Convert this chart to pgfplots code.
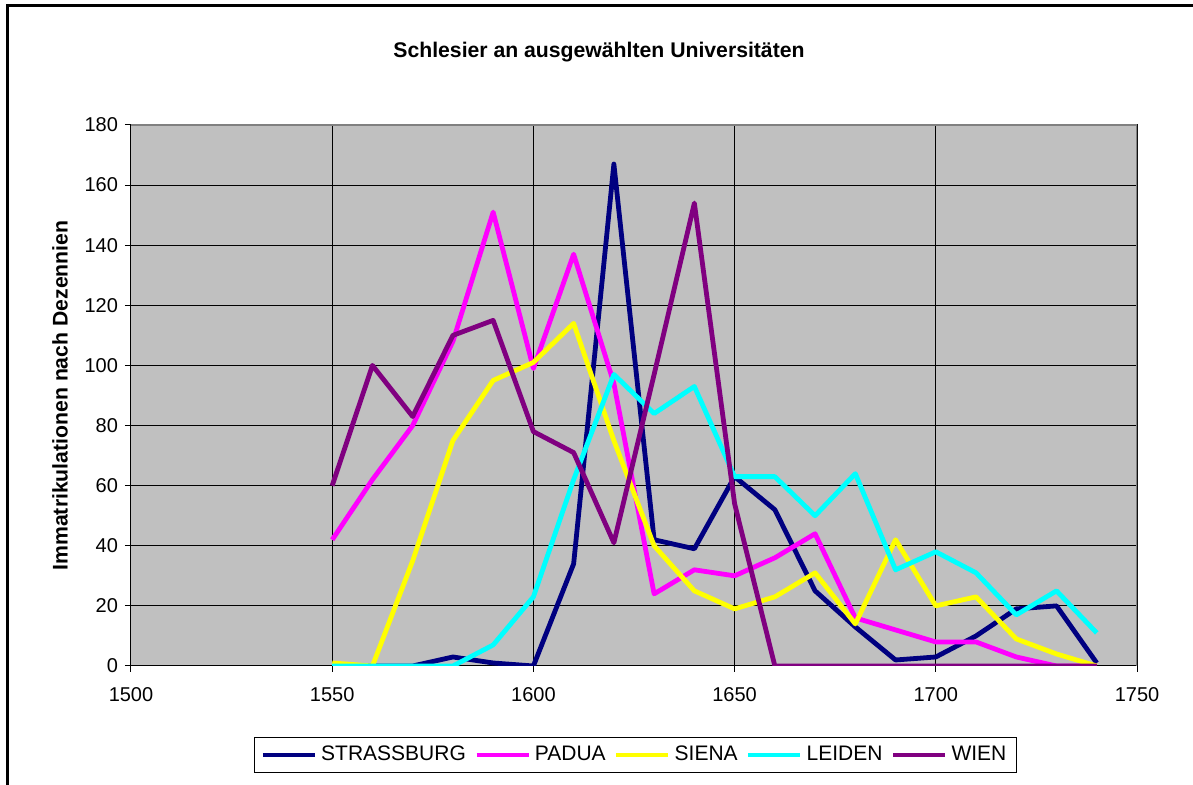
\documentclass[border=0pt]{standalone}
\usepackage{pgfplots}
\pgfplotsset{compat=1.18}
\usepackage{fontspec}
\setmainfont{Liberation Sans}
\definecolor{cStr}{HTML}{000080}
\definecolor{cPad}{HTML}{FF00FF}
\definecolor{cSie}{HTML}{FFFF00}
\definecolor{cLei}{HTML}{00FFFF}
\definecolor{cWie}{HTML}{800080}
\definecolor{plotbg}{HTML}{C0C0C0}
\definecolor{frameGray}{HTML}{808080}
\begin{document}
\begin{tikzpicture}
\path[use as bounding box] (0pt,0pt) rectangle (596.5pt,392.5pt);
\draw[line width=1.5pt] (3.5pt,-2pt) -- (3.5pt,389.5pt) -- (600pt,389.5pt);
\node[font=\fontsize{10.6}{12}\selectfont\bfseries] at (299.5pt,366.5pt) {Schlesier an ausgewählten Universitäten};
\begin{axis}[
  at={(65.5pt,59.5pt)}, anchor=south west,
  scale only axis, width=503pt, height=270.5pt,
  xmin=1500, xmax=1750, ymin=0, ymax=180,
  xtick={1500,1550,...,1750}, ytick={0,20,...,180},
  grid=major, grid style={black, line width=0.5pt},
  axis background/.style={fill=plotbg},
  axis line style={black, line width=0.5pt},
  tick align=outside, major tick length=3pt,
  tick style={black, line width=0.5pt},
  xtick pos=bottom, ytick pos=left,
  ticklabel style={font=\fontsize{10}{12}\selectfont},
  xticklabel style={yshift=-4pt},
  /pgf/number format/assume math mode=true,
  /pgf/number format/1000 sep={},
  ylabel={Immatrikulationen nach Dezennien},
  every axis y label/.style={at={(axis description cs:-0.0706,0.5)}, rotate=90, anchor=center, font=\fontsize{10.6}{12}\selectfont\bfseries},
  legend columns=5,
  legend style={at={(axis description cs:0.5015,-0.1645)}, anchor=center,
    draw=black, line width=0.5pt, fill=white,
    font=\fontsize{10.5}{12}\selectfont,
    inner xsep=3pt, inner ysep=2.5pt,
    /tikz/every odd column/.append style={column sep=0pt},
    /tikz/every even column/.append style={column sep=2.2pt},
    nodes={inner xsep=2pt}},
  legend image code/.code={\draw[line width=2.3pt] (0pt,0pt) -- (26pt,0pt);},
  every axis plot/.append style={line width=2.4pt, mark=none, line join=round},
]
\addplot[cStr] coordinates {(1550,0)(1560,0)(1570,0)(1580,3)(1590,1)(1600,0)(1610,34)(1620,167)(1630,42)(1640,39)(1650,63)(1660,52)(1670,25)(1680,13)(1690,2)(1700,3)(1710,10)(1720,19)(1730,20)(1740,1)};
\addlegendentry{STRASSBURG}
\addplot[cPad] coordinates {(1550,42)(1560,62)(1570,80)(1580,108)(1590,151)(1600,99)(1610,137)(1620,94)(1630,24)(1640,32)(1650,30)(1660,36)(1670,44)(1680,16)(1690,12)(1700,8)(1710,8)(1720,3)(1730,0)(1740,0)};
\addlegendentry{PADUA}
\addplot[cSie] coordinates {(1550,1)(1560,0)(1570,35)(1580,75)(1590,95)(1600,101)(1610,114)(1620,75)(1630,40)(1640,25)(1650,19)(1660,23)(1670,31)(1680,14)(1690,42)(1700,20)(1710,23)(1720,9)(1730,4)(1740,0)};
\addlegendentry{SIENA}
\addplot[cLei] coordinates {(1550,0)(1560,0)(1570,0)(1580,0)(1590,7)(1600,23)(1610,62)(1620,97)(1630,84)(1640,93)(1650,63)(1660,63)(1670,50)(1680,64)(1690,32)(1700,38)(1710,31)(1720,17)(1730,25)(1740,11)};
\addlegendentry{LEIDEN}
\addplot[cWie] coordinates {(1550,60)(1560,100)(1570,83)(1580,110)(1590,115)(1600,78)(1610,71)(1620,41)(1630,97)(1640,154)(1650,54)(1660,0)(1670,0)(1680,0)(1690,0)(1700,0)(1710,0)(1720,0)(1730,0)(1740,0)};
\addlegendentry{WIEN}
\draw[frameGray, line width=1.2pt] (rel axis cs:0,1) -- (rel axis cs:1,1) -- (rel axis cs:1,0);
\end{axis}
\end{tikzpicture}
\end{document}
